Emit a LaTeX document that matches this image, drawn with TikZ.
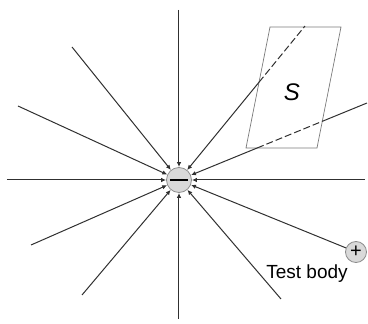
\documentclass[tikz,border=0pt]{standalone}
\usepackage{fontspec}
\setmainfont{Liberation Sans}
\usetikzlibrary{arrows.meta,calc}
\definecolor{fieldline}{HTML}{303030}
\definecolor{chargefill}{HTML}{D9D9D9}
\definecolor{chargeedge}{HTML}{8C8C8C}
\definecolor{surface}{HTML}{7A7A7A}

\begin{document}
\begin{tikzpicture}[x=1pt,y=-1pt,
  field/.style={fieldline,line width=1pt},
  inward/.style={field,-{Latex[length=5pt,width=4.5pt]}},
  charge/.style={circle,draw=chargeedge,fill=chargefill,line width=0.8pt,inner sep=0pt}]
  \useasboundingbox (0,0) rectangle (368,324);

  % Surface S
  \draw[surface,line width=0.7pt] (270,27) -- (341,27) -- (317,148) -- (246,148) -- cycle;
  \node[font=\fontsize{24}{24}\selectfont\itshape,anchor=base] (s) at (292,100) {S};

  % Source charge
  \node[charge,minimum size=25pt] (q) at (179,180) {\rule[-1.3pt]{18pt}{2.6pt}};

  % Field lines
  \foreach \x/\y [count=\i] in {179/10, 7/180, 365/180, 179/319, 72/47, 18/106, 31/245, 82/295, 281/299} {
    \coordinate (end\i) at (\x,\y);
    \draw[inward] (end\i) -- (q);
  }

  % Lines crossing S
  \coordinate (ua) at (305,26);
  \coordinate (ub) at ($(q.center)!0.635!(ua)$);
  \draw[inward] (ub) -- (q);
  \draw[field,dash pattern=on 7pt off 3pt] (ub) -- (ua);

  \coordinate (la) at (367,103);
  \coordinate (lb) at ($(q.center)!0.4156!(la)$);
  \coordinate (lc) at ($(q.center)!0.762!(la)$);
  \draw[inward] (lb) -- (q);
  \draw[field,dash pattern=on 7pt off 3pt] (lb) -- (lc);
  \draw[field] (lc) -- (la);

  % Test body
  \node[charge,minimum size=21pt] (p) at (356,252) {\fontsize{20}{20}\selectfont +};
  \draw[inward] (p) -- (q);
  \node[font=\fontsize{19}{19}\selectfont,anchor=base] (tb) at (307,279) {Test body};
\end{tikzpicture}
\end{document}
